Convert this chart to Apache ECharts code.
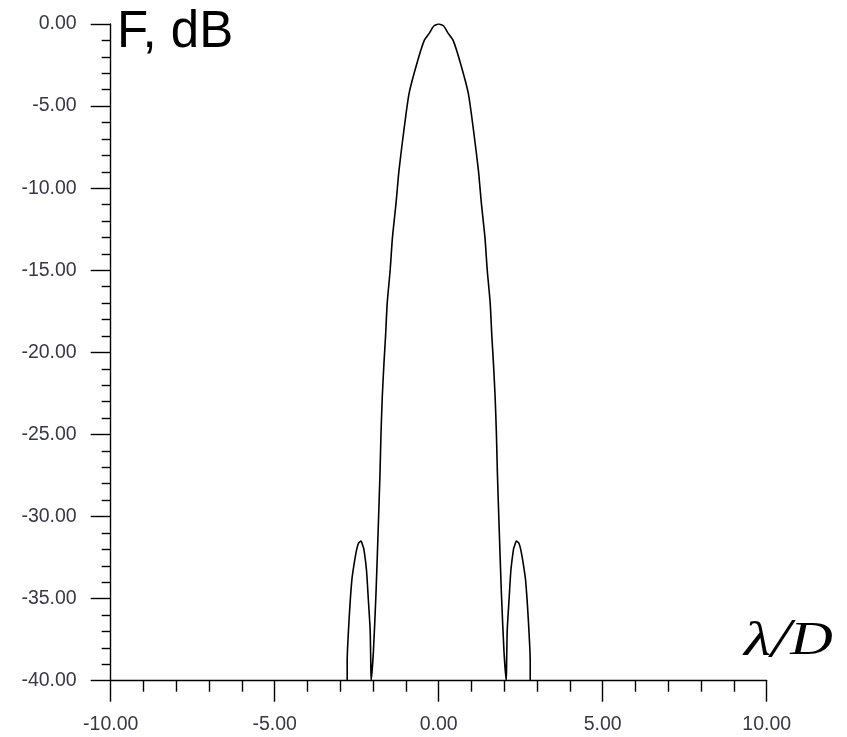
<!DOCTYPE html>
<html>
<head>
<meta charset="utf-8">
<script src="https://cdn.jsdelivr.net/npm/echarts@6/dist/echarts.min.js"></script>
<style>
  html, body { margin: 0; padding: 0; background: #ffffff; }
  #chart { width: 847px; height: 737px; }
</style>
</head>
<body>
<div id="chart"></div>
<script>
// Angular position, in units of lambda/D
const angle = [
  -2.79, -2.79, -2.73, -2.65, -2.58, -2.50, -2.44, -2.37, -2.31, -2.28, -2.20, -2.15, -2.09, -2.07, -2.06,
  -1.99, -1.91, -1.84, -1.79, -1.76, -1.72, -1.67, -1.62, -1.57, -1.48, -1.41, -1.30, -1.21, -1.05, -0.90,
  -0.65, -0.44, -0.29, -0.15, 0.00,
  0.15, 0.29, 0.44, 0.65, 0.90, 1.05, 1.21, 1.30, 1.41, 1.48, 1.57, 1.62, 1.67, 1.72, 1.76,
  1.79, 1.84, 1.91, 1.99,
  2.06, 2.07, 2.09, 2.15, 2.20, 2.28, 2.31, 2.37, 2.44, 2.50, 2.58, 2.65, 2.73, 2.79, 2.79
];
// Radiation pattern level, dB
const level = [
  -40.0, -38.8, -36.2, -33.9, -32.9, -32.0, -31.6, -31.5, -31.8, -32.0, -33.3, -34.9, -36.9, -39.0, -40.0,
  -38.2, -34.6, -30.5, -27.4, -25.0, -22.7, -20.7, -19.0, -17.0, -15.0, -13.0, -10.9, -8.9, -6.3, -4.2,
  -2.3, -1.0, -0.57, -0.12, 0.0,
  -0.12, -0.57, -1.0, -2.3, -4.2, -6.3, -8.9, -10.9, -13.0, -15.0, -17.0, -19.0, -20.7, -22.7, -25.0,
  -27.4, -30.5, -34.6, -38.2,
  -40.0, -39.0, -36.9, -34.9, -33.3, -32.0, -31.8, -31.5, -31.6, -32.0, -32.9, -33.9, -36.2, -38.8, -40.0
];

const xTicks = { min: -10, max: 10, step: 5 };
const yTicks = { min: -40, max: 0, step: 5 };

const points = angle.map((a, i) => [a, level[i]]);

const labelStyle = {
  fontFamily: '"Liberation Sans", Arial, sans-serif',
  fontSize: 19.5,
  color: '#383846',
  margin: 34,
  formatter: v => v.toFixed(2)
};

const chart = echarts.init(document.getElementById('chart'), null, { renderer: 'canvas' });
chart.setOption({
  backgroundColor: '#ffffff',
  animation: false,
  grid: { left: 110.7, right: 80.3, top: 24, bottom: 56.3, containLabel: false },
  xAxis: {
    type: 'value',
    min: xTicks.min, max: xTicks.max, interval: xTicks.step,
    axisLine: { show: true, onZero: false, lineStyle: { color: '#000', width: 1.4 } },
    axisTick: { show: true, inside: false, length: 21, lineStyle: { color: '#000', width: 1.4 } },
    minorTick: { show: true, splitNumber: 5, length: 11, lineStyle: { color: '#000', width: 1.4 } },
    splitLine: { show: false },
    minorSplitLine: { show: false },
    axisLabel: labelStyle
  },
  yAxis: {
    type: 'value',
    min: yTicks.min, max: yTicks.max, interval: yTicks.step,
    axisLine: { show: true, onZero: false, lineStyle: { color: '#000', width: 1.4 } },
    axisTick: { show: true, inside: false, length: 20, lineStyle: { color: '#000', width: 1.4 } },
    minorTick: { show: true, splitNumber: 5, length: 9, lineStyle: { color: '#000', width: 1.4 } },
    splitLine: { show: false },
    minorSplitLine: { show: false },
    axisLabel: labelStyle
  },
  series: [{
    type: 'line',
    data: points,
    showSymbol: false,
    smooth: 0.2,
    clip: true,
    lineStyle: { color: '#000', width: 1.6 }
  }],
  graphic: [
    {
      type: 'text', x: 117, y: 33,
      style: {
        text: 'F, dB',
        font: '51px "Liberation Sans", Arial, sans-serif',
        fill: '#000',
        textVerticalAlign: 'middle'
      }
    },
    {
      // axis title, drawn slightly widened
      type: 'text', x: 744, y: 642, scaleX: 1.28,
      style: {
        text: '{l|λ}{s|/}{d|D}',
        fill: '#000',
        textVerticalAlign: 'middle',
        rich: {
          l: { font: 'italic 49px "Liberation Serif", "Times New Roman", serif', fill: '#000' },
          s: { font: 'italic 54px "Liberation Serif", "Times New Roman", serif', fill: '#000' },
          d: { font: 'italic 46px "Liberation Serif", "Times New Roman", serif', fill: '#000' }
        }
      }
    }
  ]
});
</script>
</body>
</html>
